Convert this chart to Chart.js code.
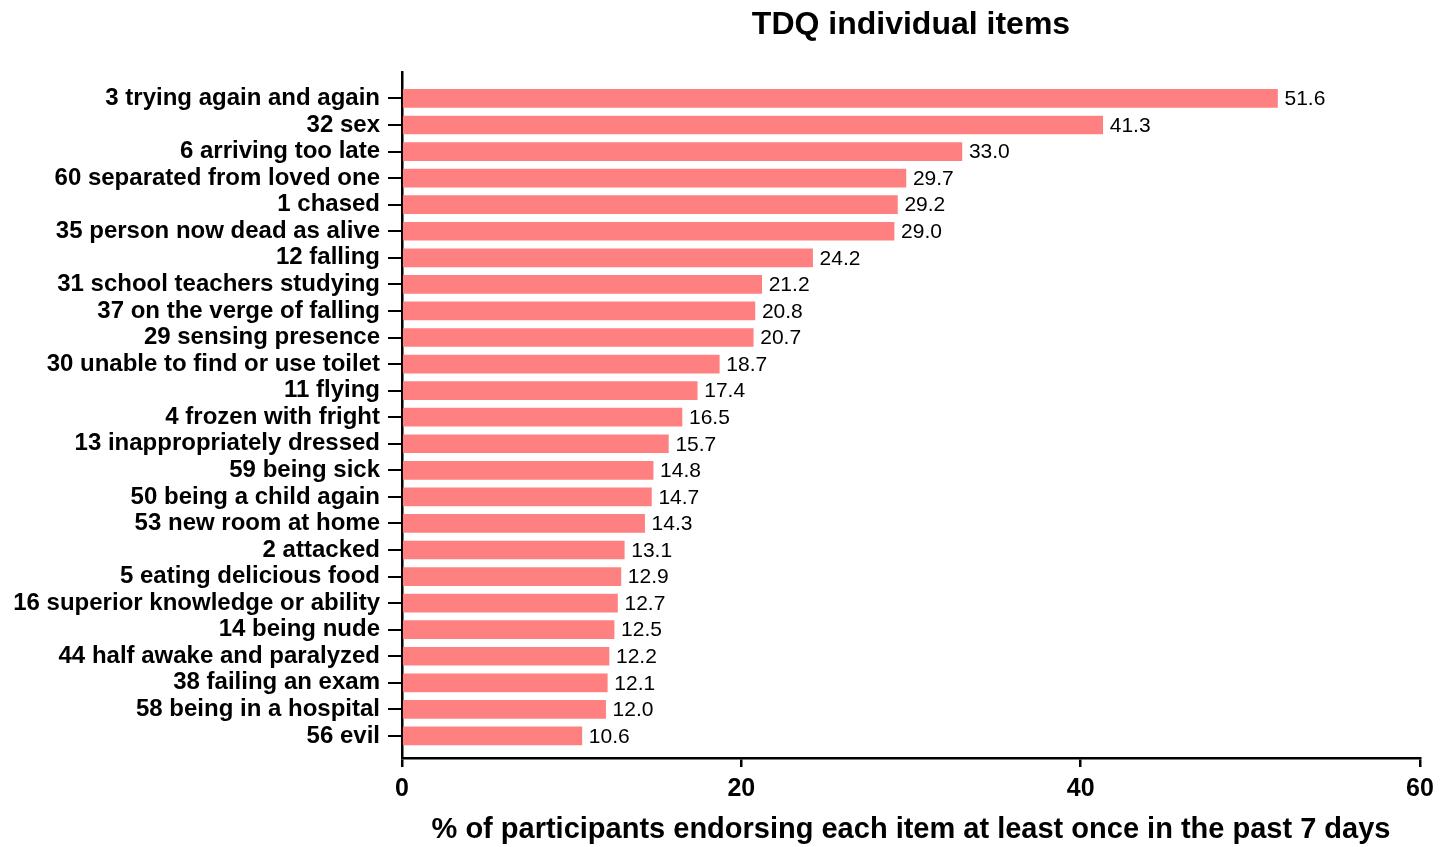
<!DOCTYPE html>
<html>
<head>
<meta charset="utf-8">
<script src="https://cdn.jsdelivr.net/npm/chart.js@4.4.0/dist/chart.umd.min.js"></script>
<style>
  body { margin: 0; background: #fff; }
</style>
</head>
<body>
<canvas id="tdqChart" width="1449" height="847"></canvas>
<script>
// items, top to bottom
const items = [
    "3 trying again and again",
    "32 sex",
    "6 arriving too late",
    "60 separated from loved one",
    "1 chased",
    "35 person now dead as alive",
    "12 falling",
    "31 school teachers studying",
    "37 on the verge of falling",
    "29 sensing presence",
    "30 unable to find or use toilet",
    "11 flying",
    "4 frozen with fright",
    "13 inappropriately dressed",
    "59 being sick",
    "50 being a child again",
    "53 new room at home",
    "2 attacked",
    "5 eating delicious food",
    "16 superior knowledge or ability",
    "14 being nude",
    "44 half awake and paralyzed",
    "38 failing an exam",
    "58 being in a hospital",
    "56 evil"
];
const percents = [51.6, 41.3, 33.0, 29.7, 29.2, 29.0, 24.2, 21.2, 20.8, 20.7, 18.7, 17.4, 16.5,
    15.7, 14.8, 14.7, 14.3, 13.1, 12.9, 12.7, 12.5, 12.2, 12.1, 12.0, 10.6];
const xTicks = [0, 20, 40, 60];

const fontFamily = '"Liberation Sans", Arial, Helvetica, sans-serif';

// labels next to the bars
const valueLabels = {
    id: 'valueLabels',
    afterDatasetsDraw(chart) {
        const ctx = chart.ctx;
        const meta = chart.getDatasetMeta(0);
        ctx.save();
        ctx.font = '21px ' + fontFamily;
        ctx.fillStyle = '#000';
        ctx.textAlign = 'left';
        ctx.textBaseline = 'middle';
        meta.data.forEach((bar, i) => {
            ctx.fillText(percents[i].toFixed(1), bar.x + 7, bar.y + 1);
        });
        ctx.restore();
    }
};

const ctx = document.getElementById('tdqChart').getContext('2d');
const tdqChart = new Chart(ctx, {
    type: 'bar',
    data: {
        datasets: [{
            data: percents.map((v, i) => ({ x: v, y: i })),
            backgroundColor: '#ff8080',
            borderWidth: 0,
            barThickness: 18
        }]
    },
    options: {
        indexAxis: 'y',
        responsive: false,
        animation: false,
        devicePixelRatio: 1,
        layout: { padding: { left: 0, right: 29, top: 0, bottom: 0 } },
        plugins: {
            legend: { display: false },
            tooltip: { enabled: false },
            title: {
                display: true,
                fullSize: false,
                text: 'TDQ individual items',
                color: '#000',
                font: { family: fontFamily, size: 32, weight: 'bold' },
                padding: { top: 6, bottom: 28 }
            }
        },
        scales: {
            x: {
                type: 'linear',
                min: 0,
                max: 60,
                afterBuildTicks: (scale) => { scale.ticks = xTicks.map(v => ({ value: v })); },
                afterFit: (scale) => { scale.height = 89; },
                border: { color: '#000', width: 2.5 },
                grid: { drawOnChartArea: false, drawTicks: true, tickLength: 9, color: '#000', lineWidth: 2.5 },
                ticks: {
                    color: '#000',
                    padding: 7,
                    font: { family: fontFamily, size: 25, weight: 'bold' }
                },
                title: {
                    display: true,
                    text: '% of participants endorsing each item at least once in the past 7 days',
                    color: '#000',
                    font: { family: fontFamily, size: 29, weight: 'bold' },
                    padding: { top: 2, bottom: 0 }
                }
            },
            y: {
                type: 'linear',
                reverse: true,
                offset: false,
                min: -0.98,
                max: 24.83,
                afterBuildTicks: (scale) => { scale.ticks = items.map((_, i) => ({ value: i })); },
                afterFit: (scale) => { scale.width = 402; },
                border: { color: '#000', width: 2.5 },
                grid: { offset: false, drawOnChartArea: false, drawTicks: true, tickLength: 14, color: '#000', lineWidth: 2 },
                ticks: {
                    color: '#000',
                    padding: 8,
                    autoSkip: false,
                    callback: (value) => items[Math.round(value)],
                    font: { family: fontFamily, size: 24, weight: 'bold' }
                }
            }
        }
    },
    plugins: [valueLabels]
});
</script>
</body>
</html>
